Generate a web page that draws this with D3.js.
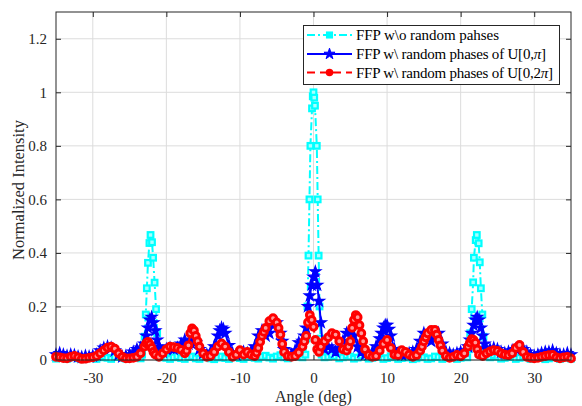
<!DOCTYPE html>
<html>
<head>
<meta charset="utf-8">
<script src="https://cdn.jsdelivr.net/npm/d3@7"></script>
<style>
  body { margin: 0; background: #fff; }
  svg { display: block; font-family: "Liberation Serif", "Times New Roman", serif; }
</style>
</head>
<body>
<div id="chart"></div>
<script>
// tick values of both axes
const xTicks = [-30, -20, -10, 0, 10, 20, 30];
const yTicks = [0, 0.2, 0.4, 0.6, 0.8, 1, 1.2];

const seriesNames = [
  "FFP w\\o random pahses",
  "FFP w\\ random phases of U[0,",
  "FFP w\\ random phases of U[0,2"
];

// FFP without random phases: [angle (deg), intensity]
const cyanData = [
  [-35, 0.005], [-34.5, 0.012], [-34, 0.008], [-33.5, 0.004], [-33, 0.01], [-32.5, 0.013],
  [-32, 0.006], [-31.5, 0.003], [-31, 0.008], [-30.5, 0.012], [-30, 0.007], [-29.5, 0.004],
  [-29, 0.01], [-28.5, 0.014], [-28, 0.008], [-27.5, 0.004], [-27, 0.011], [-26.5, 0.015],
  [-26, 0.008], [-25.5, 0.005], [-25, 0.012], [-24.5, 0.018], [-24, 0.01], [-23.5, 0.006],
  [-23.3, 0.02], [-23.1, 0.05], [-22.95, 0.087], [-22.8, 0.17], [-22.65, 0.268], [-22.5, 0.363],
  [-22.3, 0.437], [-22.15, 0.467], [-21.95, 0.44], [-21.8, 0.382], [-21.6, 0.289], [-21.4, 0.19],
  [-21.25, 0.1], [-21.1, 0.04], [-20.9, 0.01], [-20.5, 0.016], [-20, 0.008], [-19.5, 0.004],
  [-19, 0.01], [-18.5, 0.014], [-18, 0.007], [-17.5, 0.004], [-17, 0.011], [-16.5, 0.013],
  [-16, 0.006], [-15.5, 0.004], [-15, 0.01], [-14.5, 0.012], [-14, 0.006], [-13.5, 0.003],
  [-13, 0.009], [-12.5, 0.013], [-12, 0.007], [-11.5, 0.004], [-11, 0.01], [-10.5, 0.014],
  [-10, 0.007], [-9.5, 0.004], [-9, 0.011], [-8.5, 0.015], [-8, 0.008], [-7.5, 0.005],
  [-7, 0.012], [-6.5, 0.016], [-6, 0.009], [-5.5, 0.005], [-5, 0.013], [-4.5, 0.018],
  [-4, 0.01], [-3.5, 0.006], [-3, 0.014], [-2.5, 0.02], [-2, 0.012], [-1.5, 0.01],
  [-1.1, 0.02], [-0.95, 0.08], [-0.82, 0.2], [-0.68, 0.39], [-0.55, 0.6], [-0.42, 0.8],
  [-0.2, 0.94], [-0.1, 0.985], [0, 1.0], [0.1, 0.98], [0.2, 0.95], [0.45, 0.8],
  [0.57, 0.6], [0.7, 0.39], [0.82, 0.2], [0.95, 0.08], [1.1, 0.02], [1.5, 0.01],
  [2, 0.012], [2.5, 0.02], [3, 0.014], [3.5, 0.006], [4, 0.01], [4.5, 0.018],
  [5, 0.013], [5.5, 0.005], [6, 0.009], [6.5, 0.016], [7, 0.012], [7.5, 0.005],
  [8, 0.008], [8.5, 0.015], [9, 0.011], [9.5, 0.004], [10, 0.007], [10.5, 0.014],
  [11, 0.01], [11.5, 0.004], [12, 0.007], [12.5, 0.013], [13, 0.009], [13.5, 0.003],
  [14, 0.006], [14.5, 0.012], [15, 0.01], [15.5, 0.004], [16, 0.006], [16.5, 0.013],
  [17, 0.011], [17.5, 0.004], [18, 0.007], [18.5, 0.014], [19, 0.01], [19.5, 0.004],
  [20, 0.008], [20.5, 0.016], [20.9, 0.01], [21.1, 0.04], [21.3, 0.1], [21.5, 0.19],
  [21.7, 0.29], [21.8, 0.382], [22.05, 0.448], [22.2, 0.467], [22.45, 0.436], [22.6, 0.365],
  [22.75, 0.268], [22.95, 0.17], [23.1, 0.087], [23.25, 0.04], [23.45, 0.015], [24, 0.01],
  [24.5, 0.018], [25, 0.012], [25.5, 0.005], [26, 0.008], [26.5, 0.015], [27, 0.011],
  [27.5, 0.004], [28, 0.008], [28.5, 0.014], [29, 0.01], [29.5, 0.004], [30, 0.007],
  [30.5, 0.012], [31, 0.008], [31.5, 0.003], [32, 0.006], [32.5, 0.013], [33, 0.01],
  [33.5, 0.004], [34, 0.008], [34.5, 0.012], [35, 0.005]
];

// FFP with random phases U[0,pi]
const blueData = [
  [-35, 0.02], [-34.5, 0.025], [-34, 0.02], [-33.5, 0.015], [-33, 0.02], [-32.5, 0.018],
  [-32, 0.012], [-31.5, 0.01], [-31, 0.015], [-30.5, 0.012], [-30, 0.015], [-29.5, 0.02],
  [-29, 0.035], [-28.5, 0.045], [-28, 0.05], [-27.5, 0.045], [-27, 0.035], [-26.5, 0.02],
  [-26, 0.012], [-25.5, 0.015], [-25, 0.02], [-24.5, 0.03], [-24, 0.04], [-23.5, 0.045],
  [-23, 0.06], [-22.75, 0.09], [-22.5, 0.12], [-22.25, 0.15], [-22, 0.16], [-21.75, 0.14],
  [-21.5, 0.11], [-21.25, 0.075], [-21, 0.05], [-20.5, 0.03], [-20, 0.04], [-19.5, 0.045],
  [-19, 0.04], [-18.5, 0.045], [-18, 0.06], [-17.5, 0.075], [-17, 0.06], [-16.5, 0.07],
  [-16, 0.065], [-15.5, 0.04], [-15, 0.025], [-14.5, 0.02], [-14, 0.03], [-13.5, 0.05],
  [-13, 0.09], [-12.75, 0.11], [-12.5, 0.12], [-12.25, 0.115], [-12, 0.1], [-11.5, 0.055],
  [-11, 0.025], [-10.5, 0.02], [-10, 0.025], [-9.5, 0.03], [-9, 0.025], [-8.5, 0.03],
  [-8, 0.05], [-7.5, 0.09], [-7, 0.11], [-6.5, 0.09], [-6, 0.1], [-5.5, 0.13],
  [-5, 0.14], [-4.5, 0.1], [-4.25, 0.07], [-4, 0.04], [-3.5, 0.02], [-3, 0.02],
  [-2.5, 0.035], [-2, 0.065], [-1.5, 0.07], [-1.25, 0.09], [-1, 0.12], [-0.75, 0.2],
  [-0.5, 0.24], [-0.25, 0.28], [0, 0.31], [0.25, 0.33], [0.5, 0.28], [0.75, 0.22],
  [1, 0.14], [1.25, 0.05], [1.5, 0.04], [2, 0.05], [2.5, 0.04], [3, 0.03],
  [3.5, 0.045], [4, 0.07], [4.5, 0.1], [5, 0.11], [5.5, 0.09], [6, 0.05],
  [6.5, 0.03], [7, 0.02], [7.5, 0.02], [8, 0.03], [8.5, 0.05], [9, 0.08],
  [9.25, 0.1], [9.5, 0.12], [9.75, 0.13], [10, 0.13], [10.25, 0.115], [10.5, 0.09],
  [11, 0.04], [11.5, 0.025], [12, 0.02], [12.5, 0.02], [13, 0.025], [13.5, 0.03],
  [14, 0.04], [14.5, 0.07], [15, 0.1], [15.5, 0.09], [16, 0.07], [16.5, 0.08],
  [17, 0.1], [17.5, 0.06], [18, 0.03], [18.5, 0.025], [19, 0.02], [19.5, 0.025],
  [20, 0.03], [20.5, 0.035], [21, 0.05], [21.25, 0.075], [21.5, 0.1], [21.75, 0.13],
  [22, 0.15], [22.25, 0.16], [22.5, 0.15], [22.75, 0.12], [23, 0.09], [23.25, 0.06],
  [23.5, 0.04], [24, 0.04], [24.5, 0.045], [25, 0.04], [25.5, 0.03], [26, 0.025],
  [26.5, 0.03], [27, 0.035], [27.5, 0.04], [28, 0.045], [28.5, 0.04], [29, 0.03],
  [29.5, 0.02], [30, 0.015], [30.5, 0.02], [31, 0.025], [31.5, 0.03], [32, 0.03],
  [32.5, 0.035], [33, 0.025], [33.5, 0.02], [34, 0.02], [34.5, 0.025], [35, 0.02]
];

// FFP with random phases U[0,2pi]
const redData = [
  [-35, 0.012], [-34.5, 0.01], [-34, 0.007], [-33.5, 0.006], [-33, 0.012], [-32.5, 0.015],
  [-32, 0.01], [-31.5, 0.004], [-31, 0.005], [-30.5, 0.008], [-30, 0.01], [-29.5, 0.015],
  [-29, 0.025], [-28.5, 0.036], [-28, 0.046], [-27.5, 0.05], [-27, 0.042], [-26.5, 0.025],
  [-26, 0.012], [-25.5, 0.006], [-25, 0.006], [-24.5, 0.008], [-24, 0.012], [-23.5, 0.025],
  [-23, 0.05], [-22.75, 0.062], [-22.5, 0.068], [-22.25, 0.058], [-22, 0.045], [-21.75, 0.03],
  [-21.5, 0.02], [-21, 0.012], [-20.5, 0.025], [-20, 0.04], [-19.5, 0.05], [-19, 0.048],
  [-18.5, 0.045], [-18, 0.038], [-17.5, 0.025], [-17.25, 0.035], [-17, 0.055], [-16.75, 0.1],
  [-16.5, 0.118], [-16.25, 0.11], [-16, 0.09], [-15.75, 0.07], [-15.5, 0.05], [-15, 0.025],
  [-14.5, 0.012], [-14, 0.015], [-13.5, 0.03], [-13, 0.05], [-12.5, 0.062], [-12, 0.05],
  [-11.5, 0.03], [-11, 0.012], [-10.5, 0.02], [-10, 0.037], [-9.5, 0.02], [-9, 0.03],
  [-8.5, 0.02], [-8, 0.015], [-7.75, 0.028], [-7.5, 0.045], [-7.25, 0.068], [-7, 0.09],
  [-6.75, 0.105], [-6.5, 0.12], [-6, 0.145], [-5.5, 0.156], [-5, 0.14], [-4.75, 0.12],
  [-4.5, 0.095], [-4.25, 0.06], [-4, 0.03], [-3.5, 0.015], [-3, 0.012], [-2.5, 0.015],
  [-2, 0.028], [-1.5, 0.05], [-1.25, 0.07], [-1, 0.09], [-0.75, 0.14], [-0.5, 0.168],
  [-0.25, 0.15], [0, 0.124], [0.25, 0.075], [0.5, 0.04], [0.75, 0.03], [1, 0.05],
  [1.5, 0.07], [2, 0.085], [2.5, 0.1], [3, 0.095], [3.5, 0.07], [4, 0.04],
  [4.5, 0.035], [4.75, 0.05], [5, 0.07], [5.25, 0.12], [5.5, 0.15], [5.75, 0.168],
  [6, 0.16], [6.25, 0.13], [6.5, 0.1], [6.75, 0.07], [7, 0.04], [7.5, 0.019],
  [8, 0.012], [8.5, 0.015], [9, 0.035], [9.5, 0.06], [10, 0.075], [10.5, 0.045],
  [11, 0.02], [11.5, 0.018], [12, 0.037], [12.5, 0.03], [13, 0.02], [13.5, 0.012],
  [14, 0.018], [14.5, 0.035], [14.75, 0.05], [15, 0.07], [15.25, 0.085], [15.5, 0.1],
  [16, 0.112], [16.5, 0.112], [16.75, 0.095], [17, 0.075], [17.25, 0.055], [17.5, 0.035],
  [18, 0.015], [18.5, 0.008], [19, 0.012], [19.5, 0.019], [20, 0.014], [20.5, 0.025],
  [21, 0.05], [21.25, 0.065], [21.5, 0.078], [21.75, 0.075], [22, 0.065], [22.25, 0.04],
  [22.5, 0.02], [23, 0.015], [23.5, 0.025], [24, 0.032], [24.5, 0.037], [25, 0.034],
  [25.5, 0.025], [26, 0.02], [26.5, 0.018], [27, 0.025], [27.5, 0.045], [28, 0.056],
  [28.5, 0.03], [29, 0.012], [29.5, 0.008], [30, 0.006], [30.5, 0.008], [31, 0.012],
  [31.5, 0.015], [32, 0.018], [32.5, 0.019], [33, 0.01], [33.5, 0.006], [34, 0.01],
  [34.5, 0.012], [35, 0.006]
];

const width = 582, height = 406;
const mLeft = 56, mRight = 571, mTop = 12, mBottom = 360;

const svg = d3.select("#chart").append("svg")
  .attr("width", width)
  .attr("height", height);

const x = d3.scaleLinear().domain([-35, 35]).range([mLeft, mRight]);
const y = d3.scaleLinear().domain([0, 1.3]).range([mBottom, mTop]);

// grid
svg.append("g").selectAll("line")
  .data(xTicks)
  .enter().append("line")
  .attr("x1", d => x(d)).attr("x2", d => x(d))
  .attr("y1", mTop).attr("y2", mBottom)
  .attr("stroke", "#dcdcdc").attr("stroke-width", 1);

svg.append("g").selectAll("line")
  .data(yTicks)
  .enter().append("line")
  .attr("x1", mLeft).attr("x2", mRight)
  .attr("y1", d => y(d)).attr("y2", d => y(d))
  .attr("stroke", "#dcdcdc").attr("stroke-width", 1);

// axes, ticks pointing inward
const fmt = d => String(d);
const xAxis = svg.append("g")
  .attr("transform", "translate(0," + mBottom + ")")
  .call(d3.axisBottom(x).tickValues(xTicks).tickFormat(fmt).tickSize(-5).tickPadding(12));
const xAxisTop = svg.append("g")
  .attr("transform", "translate(0," + mTop + ")")
  .call(d3.axisTop(x).tickValues(xTicks).tickFormat("").tickSize(-5));
const yAxis = svg.append("g")
  .attr("transform", "translate(" + mLeft + ",0)")
  .call(d3.axisLeft(y).tickValues(yTicks).tickFormat(fmt).tickSize(-5).tickPadding(9));
const yAxisRight = svg.append("g")
  .attr("transform", "translate(" + mRight + ",0)")
  .call(d3.axisRight(y).tickValues(yTicks).tickFormat("").tickSize(-5));

[xAxis, xAxisTop, yAxis, yAxisRight].forEach(g => {
  g.select(".domain").remove();
  g.selectAll("line").attr("stroke", "#262626");
  g.selectAll("text")
    .attr("fill", "#262626")
    .style("font-size", "15px")
    .style("font-family", "Liberation Serif");
});

// series
const line = d3.line().x(d => x(d[0])).y(d => y(d[1]));

const star = d3.symbol().type(d3.symbolStar).size(38);

function drawCyan(g, data) {
  g.append("path").datum(data)
    .attr("d", line)
    .attr("fill", "none")
    .attr("stroke", "#00ffff")
    .attr("stroke-width", 2)
    .attr("stroke-dasharray", "8,3,2,3");
  g.selectAll("rect").data(data).enter().append("rect")
    .attr("x", d => x(d[0]) - 2.8)
    .attr("y", d => y(d[1]) - 2.8)
    .attr("width", 5.6).attr("height", 5.6)
    .attr("fill", "#a8ffff")
    .attr("stroke", "#00ffff")
    .attr("stroke-width", 2.2);
}

function drawBlue(g, data) {
  g.append("path").datum(data)
    .attr("d", line)
    .attr("fill", "none")
    .attr("stroke", "#0000ff")
    .attr("stroke-width", 2);
  g.selectAll("path.m").data(data).enter().append("path")
    .attr("class", "m")
    .attr("d", star)
    .attr("transform", d => "translate(" + x(d[0]) + "," + y(d[1]) + ")")
    .attr("fill", "#0000ff")
    .attr("stroke", "#0000ff")
    .attr("stroke-width", 1.2);
}

function drawRed(g, data) {
  g.append("path").datum(data)
    .attr("d", line)
    .attr("fill", "none")
    .attr("stroke", "#ff0000")
    .attr("stroke-width", 2)
    .attr("stroke-dasharray", "8,4");
  g.selectAll("circle").data(data).enter().append("circle")
    .attr("cx", d => x(d[0]))
    .attr("cy", d => y(d[1]))
    .attr("r", 3.4)
    .attr("fill", "#ff9a9a")
    .attr("stroke", "#ff0000")
    .attr("stroke-width", 3);
}

drawCyan(svg.append("g"), cyanData);
drawBlue(svg.append("g"), blueData);
drawRed(svg.append("g"), redData);

// box
svg.append("rect")
  .attr("x", mLeft).attr("y", mTop)
  .attr("width", mRight - mLeft).attr("height", mBottom - mTop)
  .attr("fill", "none")
  .attr("stroke", "#262626")
  .attr("stroke-width", 1);

// axis labels
svg.append("text")
  .attr("x", (mLeft + mRight) / 2)
  .attr("y", 402)
  .attr("text-anchor", "middle")
  .style("font-size", "16px")
  .attr("fill", "#262626")
  .text("Angle (deg)");

svg.append("text")
  .attr("transform", "translate(24,190) rotate(-90)")
  .attr("text-anchor", "middle")
  .style("font-size", "16.5px")
  .attr("fill", "#262626")
  .text("Normalized Intensity");

// legend
const legend = svg.append("g");
legend.append("rect")
  .attr("x", 303.5).attr("y", 25.5)
  .attr("width", 256).attr("height", 59)
  .attr("fill", "#fff")
  .attr("stroke", "#262626")
  .attr("stroke-width", 1);

const rowY = [35, 54, 72.5];
const lx1 = 307, lx2 = 352, lmid = 329.5;

// cyan sample
legend.append("line")
  .attr("x1", lx1).attr("x2", lx2).attr("y1", rowY[0]).attr("y2", rowY[0])
  .attr("stroke", "#00ffff").attr("stroke-width", 2).attr("stroke-dasharray", "8,3,2,3");
legend.append("rect")
  .attr("x", lmid - 2.8).attr("y", rowY[0] - 2.8).attr("width", 5.6).attr("height", 5.6)
  .attr("fill", "#00ffff").attr("stroke", "#00ffff").attr("stroke-width", 1.5);

// blue sample
legend.append("line")
  .attr("x1", lx1).attr("x2", lx2).attr("y1", rowY[1]).attr("y2", rowY[1])
  .attr("stroke", "#0000ff").attr("stroke-width", 2);
legend.append("path")
  .attr("d", star)
  .attr("transform", "translate(" + lmid + "," + rowY[1] + ")")
  .attr("fill", "#0000ff").attr("stroke", "#0000ff");

// red sample
legend.append("line")
  .attr("x1", lx1).attr("x2", lx2).attr("y1", rowY[2]).attr("y2", rowY[2])
  .attr("stroke", "#ff0000").attr("stroke-width", 2).attr("stroke-dasharray", "8,5");
legend.append("circle")
  .attr("cx", lmid).attr("cy", rowY[2]).attr("r", 3)
  .attr("fill", "#ff0000").attr("stroke", "#ff0000").attr("stroke-width", 1.5);

// text widths matched to the reference legend
const textWidths = [143, 190, 197];
const piSuffix = ["", "]", "]"];
seriesNames.forEach((name, i) => {
  const t = legend.append("text")
    .attr("x", 356)
    .attr("y", rowY[i] + 5)
    .attr("textLength", textWidths[i])
    .attr("lengthAdjust", "spacing")
    .style("font-size", "15px")
    .attr("fill", "#000");
  t.append("tspan").text(name);
  if (i > 0) {
    t.append("tspan").style("font-style", "italic").text("\u03c0");
    t.append("tspan").text(piSuffix[i]);
  }
});
</script>
</body>
</html>
